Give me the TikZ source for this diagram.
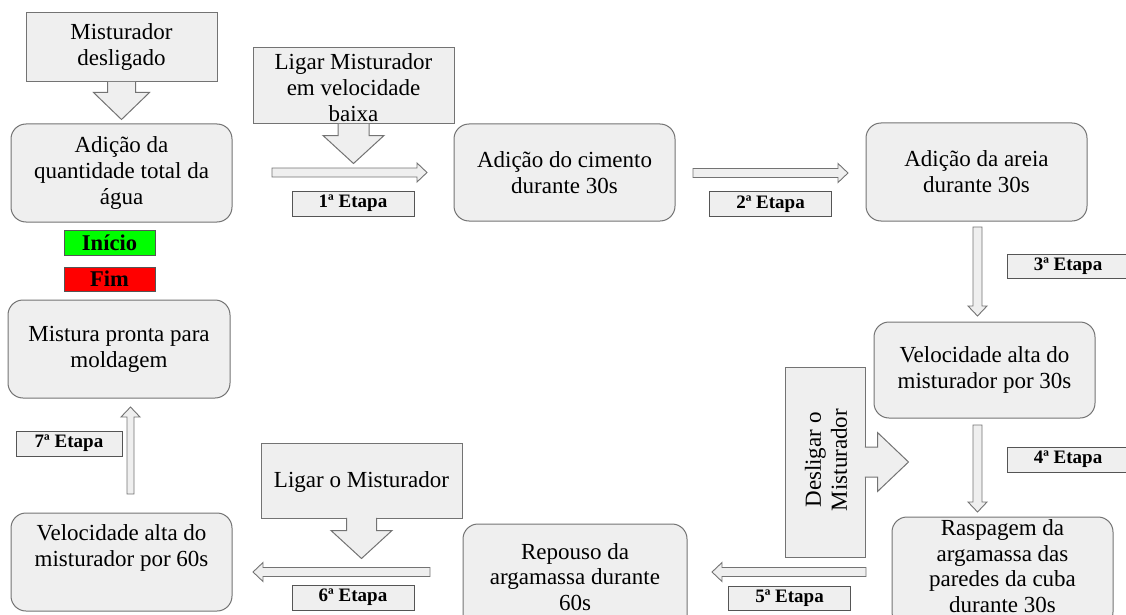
\documentclass[tikz,border=0pt]{standalone}
\usepackage{fontspec}
\setmainfont{Liberation Serif}
\usetikzlibrary{calc}
\definecolor{boxfill}{HTML}{EFEFEF}
\definecolor{edge}{HTML}{737373}
\definecolor{edgedark}{HTML}{555555}
\definecolor{startgreen}{HTML}{00FF00}
\definecolor{endred}{HTML}{FF0000}
\newcommand\rightthin[2]{\draw[thinarrow] ($(#1)+(0,-4.5)$) -- ($(#2)+(-10,-4.5)$) -- ($(#2)+(-10,-9.5)$) -- (#2) -- ($(#2)+(-10,9.5)$) -- ($(#2)+(-10,4.5)$) -- ($(#1)+(0,4.5)$) -- cycle;}
\newcommand\leftthin[2]{\draw[thinarrow] ($(#1)+(0,-4.5)$) -- ($(#2)+(10,-4.5)$) -- ($(#2)+(10,-9.5)$) -- (#2) -- ($(#2)+(10,9.5)$) -- ($(#2)+(10,4.5)$) -- ($(#1)+(0,4.5)$) -- cycle;}
\newcommand\downthin[2]{\draw[thinarrow] ($(#1)+(-4.5,0)$) -- ($(#2)+(-4.5,-10)$) -- ($(#2)+(-9.5,-10)$) -- (#2) -- ($(#2)+(9.5,-10)$) -- ($(#2)+(4.5,-10)$) -- ($(#1)+(4.5,0)$) -- cycle;}
\newcommand\upthin[2]{\draw[thinarrow] ($(#1)+(-3.5,0)$) -- ($(#2)+(-3.5,10)$) -- ($(#2)+(-9.5,10)$) -- (#2) -- ($(#2)+(9.5,10)$) -- ($(#2)+(3.5,10)$) -- ($(#1)+(3.5,0)$) -- cycle;}
\begin{document}
\begin{tikzpicture}[x=1pt,y=-1pt,
  txt/.style={font=\fontsize{23}{26}\selectfont, align=center, inner sep=0pt},
  tighttxt/.style={font=\fontsize{23}{25.5}\selectfont, align=center, inner sep=0pt},
  rbox/.style={txt, draw=edge, fill=boxfill, line width=1pt, rounded corners=15pt, minimum width=221pt},
  crect/.style={draw=edge, fill=boxfill, line width=1pt, inner sep=0pt},
  callout/.style={draw=edge, fill=boxfill, line width=1pt, line join=miter},
  thinarrow/.style={draw=edge, fill=boxfill, line width=0.9pt, line join=miter},
  etapa/.style={draw=edgedark, fill=boxfill, line width=1pt, minimum width=122pt, minimum height=25pt, inner sep=0pt, font=\fontsize{19}{20}\selectfont\bfseries},
  status/.style={draw=edgedark, line width=1pt, minimum width=91pt, minimum height=25pt, inner sep=0pt, font=\fontsize{22.5}{24}\selectfont\bfseries}
]
\useasboundingbox (0,0) rectangle (1126,615);
\clip (0,0) rectangle (1126,615);

% rounded process boxes
\node[rbox, minimum height=98pt] (b1) at (121.5,173) {Adição da\\quantidade total da\\água};
\node[rbox, minimum height=97pt] (b2) at (564.5,172.5) {Adição do cimento\\durante 30s};
\node[rbox, minimum height=98pt] (b3) at (976.5,172) {Adição da areia\\durante 30s};
\node[rbox, minimum height=96pt] (b4) at (984.5,370) {Velocidade alta do\\misturador por 30s};
\node[rbox, minimum height=110pt] (b5) at (1002.5,572) {};
\node[tighttxt] (b5t) at (1002.5,566) {Raspagem da\\argamassa das\\paredes da cuba\\durante 30s};
\node[rbox, minimum width=224pt, minimum height=112pt] (b6) at (575,580) {};
\node[tighttxt] (b6t) at (575,577) {Repouso da\\argamassa durante\\60s};
\node[rbox, minimum height=98pt] (b7) at (121.5,562) {Velocidade alta do\\misturador por 60s\\\strut};
\node[rbox, minimum width=222pt, minimum height=98pt] (b8) at (119,349) {Mistura pronta para\\moldagem};

% start / end labels
\node[status, fill=startgreen] (ini) at (109.5,242.5) {Início};
\node[status, fill=endred, minimum height=24pt] (fim) at (109.5,279) {Fim};

% callout: Misturador desligado
\node[crect, minimum width=191pt, minimum height=69pt] (c1) at (121.5,47.5) {};
\draw[callout] ($(c1.south)+(-14,-0.6)$) -- ++(0,10.6) -- ++(-14,0) -- ($(c1.south)+(0,37)$) -- ($(c1.south)+(28,10)$) -- ++(-14,0) -- ++(0,-10.6);
\node[txt] (c1t) at (c1.center) {Misturador\\desligado};

% callout: Ligar Misturador em velocidade baixa
\node[crect, minimum width=201pt, minimum height=76pt] (c2) at (353.5,86) {};
\draw[callout] ($(c2.south)+(-15.5,-0.6)$) -- ++(0,11.6) -- ++(-15,0) -- ($(c2.south)+(0,39)$) -- ($(c2.south)+(30.5,11)$) -- ++(-15,0) -- ++(0,-11.6);
\node[txt] (c2t) at (353.5,87.5) {Ligar Misturador\\em velocidade\\baixa};

% callout: Ligar o Misturador
\node[crect, minimum width=201pt, minimum height=75pt] (c3) at (361.5,480.5) {};
\draw[callout] ($(c3.south)+(-15,-0.6)$) -- ++(0,12.6) -- ++(-15.5,0) -- ($(c3.south)+(0,40)$) -- ($(c3.south)+(30.5,12)$) -- ++(-15.5,0) -- ++(0,-12.6);
\node[txt] (c3t) at (361.5,482) {Ligar o Misturador};

% callout: Desligar o Misturador (rotated)
\node[crect, minimum width=80pt, minimum height=190pt] (c4) at (825,462) {};
\draw[callout] ($(c4.east)+(-0.6,-15)$) -- ++(12.6,0) -- ++(0,-14.5) -- ($(c4.east)+(43,0)$) -- ($(c4.east)+(12,29.5)$) -- ++(0,-14.5) -- ++(-12.6,0);
\node[txt, rotate=90] (c4t) at (826,460) {Desligar o\\Misturador};

% thin hollow arrows
\coordinate (a1s) at (272,172.5); \coordinate (a1e) at (427,172.5);
\coordinate (a2s) at (693,173);   \coordinate (a2e) at (848,173);
\coordinate (a3s) at (977.5,227); \coordinate (a3e) at (977.5,316);
\coordinate (a4s) at (977.5,425); \coordinate (a4e) at (977.5,512);
\coordinate (a5s) at (866,572);   \coordinate (a5e) at (712,572);
\coordinate (a6s) at (430,572);   \coordinate (a6e) at (253,572);
\coordinate (a7s) at (130.5,494); \coordinate (a7e) at (130.5,407);
\rightthin{a1s}{a1e}
\rightthin{a2s}{a2e}
\downthin{a3s}{a3e}
\downthin{a4s}{a4e}
\leftthin{a5s}{a5e}
\leftthin{a6s}{a6e}
\upthin{a7s}{a7e}

% stage labels
\node[etapa] (e1) at (353,203.5) {1ª Etapa};
\node[etapa] (e2) at (770.5,204) {2ª Etapa};
\node[etapa, minimum height=24pt] (e3) at (1068,266) {3ª Etapa};
\node[etapa] (e4) at (1068,459.5) {4ª Etapa};
\node[etapa, minimum height=24pt] (e5) at (789.5,598) {5ª Etapa};
\node[etapa] (e6) at (353,597.5) {6ª Etapa};
\node[etapa, minimum width=106pt] (e7) at (69,443.5) {7ª Etapa};
\end{tikzpicture}
\end{document}
